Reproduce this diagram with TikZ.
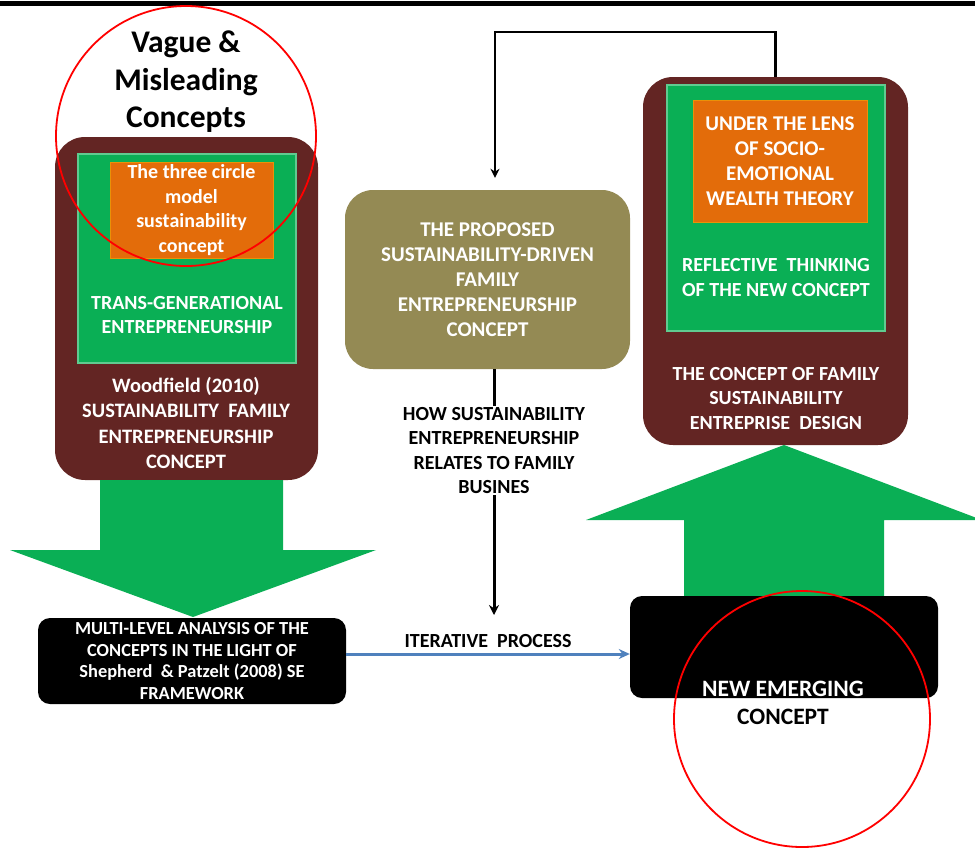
\documentclass[tikz,border=0pt]{standalone}
\usepackage{fontspec}
\setmainfont{Carlito}
\usetikzlibrary{positioning,arrows.meta}
\definecolor{maroon}{HTML}{632523}
\definecolor{leaf}{HTML}{0AAF55}
\definecolor{pumpkin}{HTML}{E36C0A}
\definecolor{khaki}{HTML}{948A54}
\definecolor{steel}{HTML}{4F81BD}
\tikzset{
    txt/.style={font=\bfseries\fontsize{20}{24.5}\selectfont, align=center, text=white, inner sep=0pt},
    bigtxt/.style={font=\bfseries\fontsize{21}{25}\selectfont, align=center, text=white, inner sep=0pt},
    smalltxt/.style={font=\bfseries\fontsize{18.4}{21.7}\selectfont, align=center, text=white, inner sep=0pt},
    panel/.style={fill=maroon, rounded corners=30pt},
    plate/.style={fill=leaf, draw=leaf!65!white, line width=1.5pt},
    lens/.style={fill=pumpkin, draw=pumpkin!75!yellow, line width=1pt},
    slab/.style={fill=black, rounded corners=12pt},
    ring/.style={draw=red, line width=1.8pt},
}
\begin{document}
\begin{tikzpicture}[x=1pt,y=-1pt]
    \useasboundingbox (0,0) rectangle (975,847);
    \draw[line width=5pt] (0,3) -- (975,3);

    % left column
    \node[panel, minimum width=263, minimum height=343] (woodbox) at (186.5,308.5) {};
    \node[plate, minimum width=218, minimum height=209] (transbox) at (187,258.5) {};
    \node[lens, txt, minimum width=163, minimum height=96] (threecircle) at (191.5,210)
        {The three circle\\model\\sustainability\\concept};
    \node[txt] (transtext) at (187,315) {TRANS-GENERATIONAL\\ENTREPRENEURSHIP};
    \node[txt, font=\bfseries\fontsize{20.5}{25.3}\selectfont] (woodtext) at (186,423)
        {Woodfield (2010)\\SUSTAINABILITY\ \ FAMILY\\ENTREPRENEURSHIP\\CONCEPT};
    \node[font=\bfseries\fontsize{31.5}{37.5}\selectfont, align=center, inner sep=0pt] (vague) at (186,82)
        {Vague \&\\Misleading\\Concepts};

    \fill[leaf] (100,480) -- (283,480) -- (283,550) -- (376,550) -- (193,617)
        -- (10,550) -- (100,550) -- cycle;
    \node[slab, smalltxt, minimum width=308, minimum height=86] (multibox) at (192,661)
        {MULTI-LEVEL ANALYSIS OF THE\\CONCEPTS IN THE LIGHT OF\\Shepherd\ \ \& Patzelt (2008) SE\\FRAMEWORK};

    % middle
    \node[fill=khaki, rounded corners=28pt, bigtxt, minimum width=285, minimum height=179] (proposed) at (487.5,279.5)
        {THE PROPOSED\\SUSTAINABILITY-DRIVEN\\FAMILY\\ENTREPRENEURSHIP\\CONCEPT};
    \coordinate (iterend) at (494,615);

    % right column
    \node[panel, minimum width=265, minimum height=368] (designbox) at (775.5,261) {};
    \node[plate, minimum width=218, minimum height=246] (reflectbox) at (776,208) {};
    \node[lens, bigtxt, minimum width=174, minimum height=122] (lensbox) at (780,161)
        {UNDER THE LENS\\OF SOCIO-\\EMOTIONAL\\WEALTH THEORY};
    \node[txt] (reflecttext) at (776,277.5) {REFLECTIVE\ \ THINKING\\OF THE NEW CONCEPT};
    \node[txt] (designtext) at (776,398.5) {THE CONCEPT OF FAMILY\\SUSTAINABILITY\\ENTREPRISE\ \ DESIGN};

    \fill[leaf] (684,597) -- (684,520) -- (586,520) -- (784,445) -- (982,520)
        -- (884,520) -- (884,597) -- cycle;
    \node[slab, minimum width=308, minimum height=102] (newbox) at (784,647) {};
    \node[font=\bfseries\fontsize{23.5}{28}\selectfont, align=center, inner sep=0pt] (newtext) at (783,703)
        {\textcolor{white}{NEW EMERGING}\\CONCEPT};

    % connectors
    \draw[line width=2.4pt, -{Stealth[length=9pt,width=9pt]}, shorten >=12pt]
        (designbox.north) -- ++(0,-45) -| ([xshift=7.5pt]proposed.north);
    \draw[line width=3pt, -{Stealth[length=10pt,width=10pt]}] ([xshift=6.5pt]proposed.south)
        -- node[pos=0.33, fill=white, txt, text=black, inner sep=1pt] (howtext)
        {HOW SUSTAINABILITY\\ENTREPRENEURSHIP\\RELATES TO FAMILY\\BUSINES} (iterend);
    \draw[steel, line width=3pt, -{Stealth[length=11pt,width=10pt]}] ([yshift=7pt]multibox.east)
        -- node[above=5pt, txt, text=black] (itertext) {ITERATIVE\ \ PROCESS}
        ([yshift=7pt]multibox.east -| newbox.west);

    % circles
    \draw[ring] (186,136) circle [radius=130];
    \draw[ring] (802,719) circle [radius=128];
\end{tikzpicture}
\end{document}
